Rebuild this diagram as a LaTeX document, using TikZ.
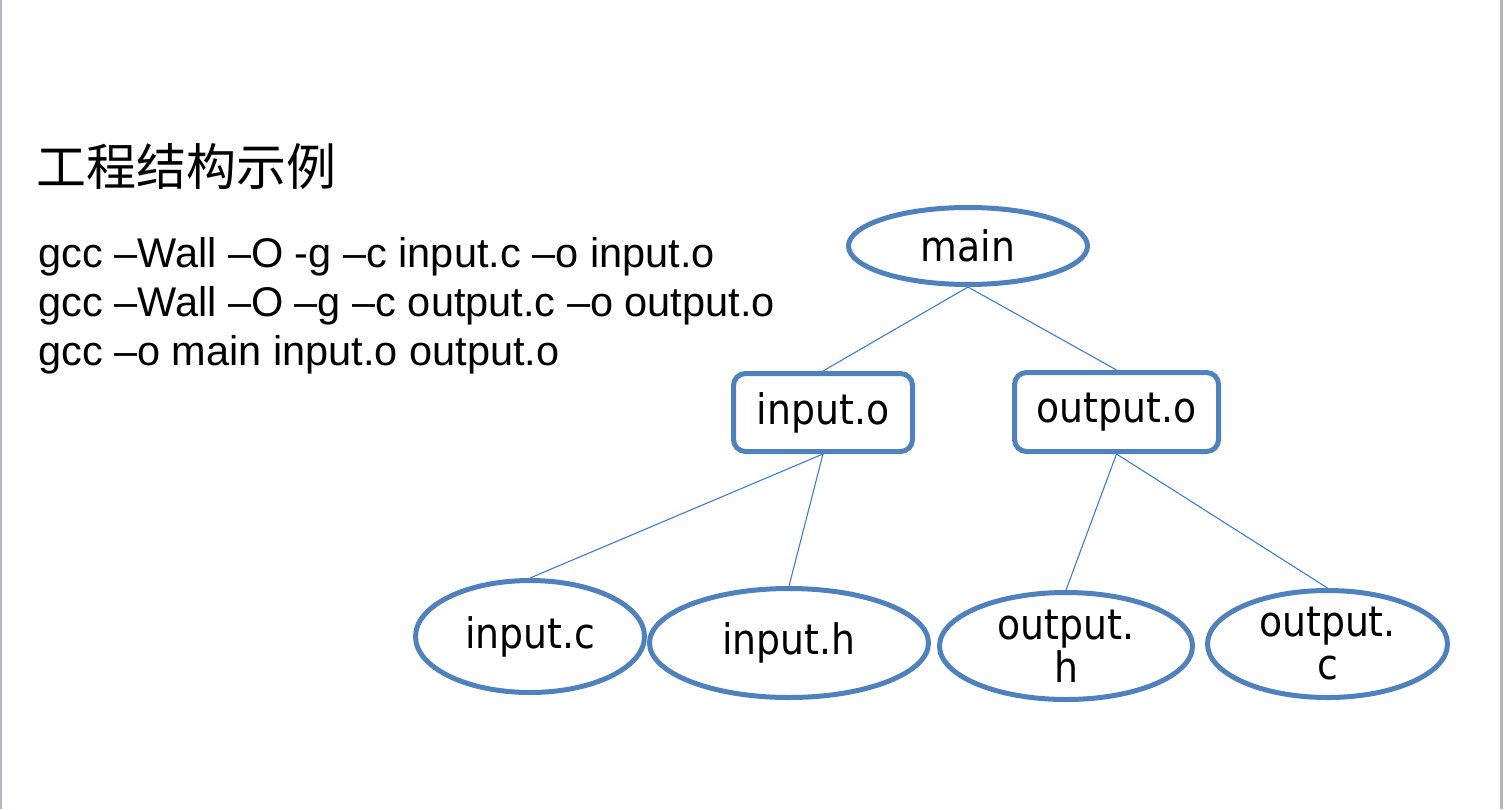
\documentclass[tikz,border=0pt]{standalone}
\usepackage{fontspec}
\setmainfont{Liberation Sans}
\newfontfamily\cjkfont{Noto Sans CJK SC}
\newfontfamily\nodefont{DejaVu Sans Condensed}
\usetikzlibrary{shapes.geometric,backgrounds}
\definecolor{nodeblue}{HTML}{4F81BD}
\definecolor{lineblue}{HTML}{3C7DD9}
\definecolor{sidegray}{HTML}{B4B4C4}
\tikzset{
  treeell/.style={ellipse, draw=nodeblue, line width=5pt, fill=white, inner sep=0pt,
    font=\nodefont\fontsize{42}{43}\selectfont, align=center},
  treebox/.style={rectangle, rounded corners=12pt, draw=nodeblue, line width=5pt, fill=white, inner sep=0pt,
    font=\nodefont\fontsize{42}{43}\selectfont, align=center},
  conn/.style={draw=lineblue, line width=1.1pt},
  cmdline/.style={anchor=base west, inner sep=0pt, font=\fontsize{41.5}{50}\selectfont}
}
\begin{document}
\begin{tikzpicture}[x=1pt,y=-1pt]
\useasboundingbox (0,0) rectangle (1504,809);
\fill[sidegray] (0,0) rectangle (2,809);
\fill[sidegray] (1500,0) rectangle (1503,809);

\node[anchor=west, inner sep=0pt, font=\cjkfont\fontsize{50}{52}\selectfont] (title) at (36,166) {工程结构示例};
\node[cmdline] (l1) at (38,267) {gcc –Wall –O -g –c input.c –o input.o};
\node[cmdline] (l2) at (38,316) {gcc –Wall –O –g –c output.c –o output.o};
\node[cmdline] (l3) at (38,365) {gcc –o main input.o output.o};

\node[treeell, minimum width=239pt, minimum height=77pt] (main) at (968,246) {main};
\node[treebox, minimum width=179pt, minimum height=78pt] (inputo) at (823,412.5) {input.o};
\node[treebox, minimum width=204pt, minimum height=79pt] (outputo) at (1116.5,412) {output.o};
\node[treeell, minimum width=229pt, minimum height=112pt] (inputc) at (530,636.5) {input.c};
\node[treeell, minimum width=279pt, minimum height=109pt] (inputh) at (789,643) {input.h};
\node[treeell, minimum width=253pt, minimum height=107pt] (outputh) at (1066,646) {output.\\h};
\node[treeell, minimum width=240pt, minimum height=107pt] (outputc) at (1327.5,644) {output.\\c};

\begin{pgfonlayer}{background}
\draw[conn] (main.south) -- (inputo.north);
\draw[conn] (main.south) -- (outputo.north);
\draw[conn] (inputo.south) -- (inputc.north);
\draw[conn] (inputo.south) -- (inputh.north);
\draw[conn] (outputo.south) -- (outputh.north);
\draw[conn] (outputo.south) -- (outputc.north);
\end{pgfonlayer}
\end{tikzpicture}
\end{document}
